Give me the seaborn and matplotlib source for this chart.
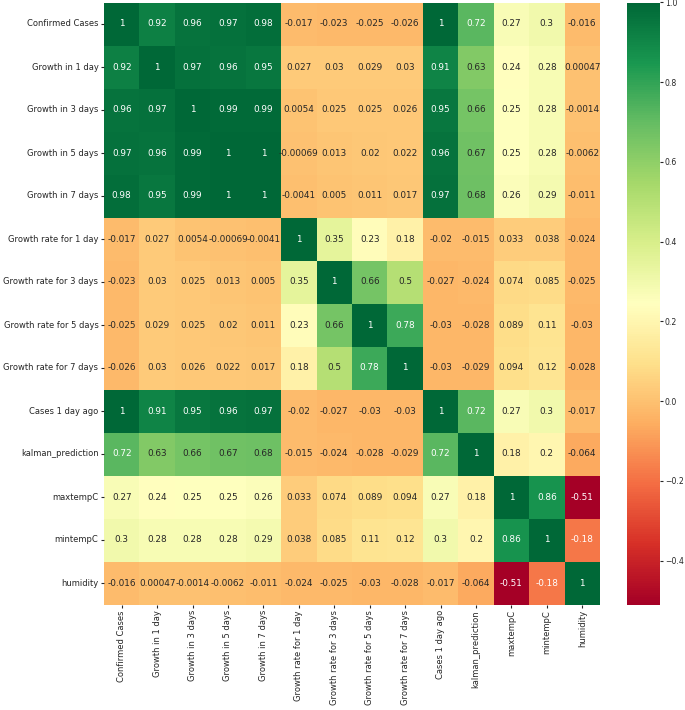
import pandas as pd
import seaborn as sns
import matplotlib
matplotlib.use('Agg')
import matplotlib.pyplot as plt

# названия признаков
labels = ['Confirmed Cases', 'Growth in 1 day', 'Growth in 3 days', 'Growth in 5 days',
          'Growth in 7 days', 'Growth rate for 1 day', 'Growth rate for 3 days',
          'Growth rate for 5 days', 'Growth rate for 7 days', 'Cases 1 day ago',
          'kalman_prediction', 'maxtempC', 'mintempC', 'humidity']

# строки корреляционной матрицы
confirmed = [1, 0.92, 0.96, 0.97, 0.98, -0.017, -0.023, -0.025, -0.026, 1, 0.72, 0.27, 0.3, -0.016]
growth1 = [0.92, 1, 0.97, 0.96, 0.95, 0.027, 0.03, 0.029, 0.03, 0.91, 0.63, 0.24, 0.28, 0.00047]
growth3 = [0.96, 0.97, 1, 0.99, 0.99, 0.0054, 0.025, 0.025, 0.026, 0.95, 0.66, 0.25, 0.28, -0.0014]
growth5 = [0.97, 0.96, 0.99, 1, 1, -0.00069, 0.013, 0.02, 0.022, 0.96, 0.67, 0.25, 0.28, -0.0062]
growth7 = [0.98, 0.95, 0.99, 1, 1, -0.0041, 0.005, 0.011, 0.017, 0.97, 0.68, 0.26, 0.29, -0.011]
rate1 = [-0.017, 0.027, 0.0054, -0.00069, -0.0041, 1, 0.35, 0.23, 0.18, -0.02, -0.015, 0.033, 0.038, -0.024]
rate3 = [-0.023, 0.03, 0.025, 0.013, 0.005, 0.35, 1, 0.66, 0.5, -0.027, -0.024, 0.074, 0.085, -0.025]
rate5 = [-0.025, 0.029, 0.025, 0.02, 0.011, 0.23, 0.66, 1, 0.78, -0.03, -0.028, 0.089, 0.11, -0.03]
rate7 = [-0.026, 0.03, 0.026, 0.022, 0.017, 0.18, 0.5, 0.78, 1, -0.03, -0.029, 0.094, 0.12, -0.028]
cases_ago = [1, 0.91, 0.95, 0.96, 0.97, -0.02, -0.027, -0.03, -0.03, 1, 0.72, 0.27, 0.3, -0.017]
kalman = [0.72, 0.63, 0.66, 0.67, 0.68, -0.015, -0.024, -0.028, -0.029, 0.72, 1, 0.18, 0.2, -0.064]
maxtemp = [0.27, 0.24, 0.25, 0.25, 0.26, 0.033, 0.074, 0.089, 0.094, 0.27, 0.18, 1, 0.86, -0.51]
mintemp = [0.3, 0.28, 0.28, 0.28, 0.29, 0.038, 0.085, 0.11, 0.12, 0.3, 0.2, 0.86, 1, -0.18]
humidity = [-0.016, 0.00047, -0.0014, -0.0062, -0.011, -0.024, -0.025, -0.03, -0.028, -0.017, -0.064, -0.51, -0.18, 1]

rows = [confirmed, growth1, growth3, growth5, growth7, rate1, rate3, rate5, rate7,
        cases_ago, kalman, maxtemp, mintemp, humidity]
corr = pd.DataFrame(rows, index=labels, columns=labels)

plt.rcParams['font.size'] = 6.0
plt.rcParams['text.color'] = '#262626'
plt.rcParams['xtick.color'] = '#262626'
plt.rcParams['ytick.color'] = '#262626'

fig = plt.figure(figsize=(6.85, 7.1), dpi=100)
ax = fig.add_axes([104 / 685, 1 - 604.5 / 710, 496 / 685, 602 / 710])
cax = fig.add_axes([627 / 685, 1 - 604.5 / 710, 33 / 685, 602 / 710])

sns.heatmap(corr, annot=True, cmap='RdYlGn', ax=ax, cbar_ax=cax,
            annot_kws={'size': 6.4})
ax.tick_params(labelsize=6.0, length=2, pad=2)
cax.tick_params(labelsize=5.6, length=2, pad=1.5)

fig.savefig('out.png', dpi=100)
